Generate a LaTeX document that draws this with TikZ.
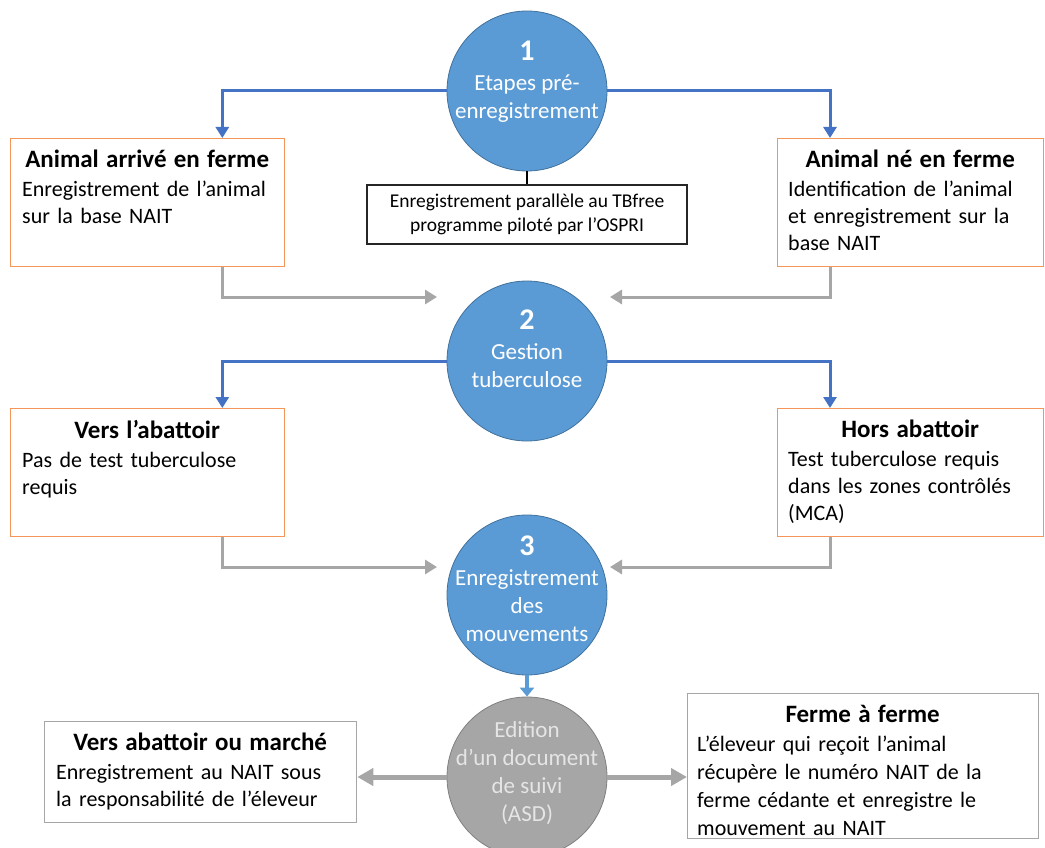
\documentclass[tikz,border=0pt]{standalone}
\usepackage{fontspec}
\setmainfont{Carlito}
\usepackage{xcolor}
\usepackage{tikz}
\usetikzlibrary{arrows.meta}

\definecolor{stepblue}{RGB}{91,155,213}
\definecolor{stepedge}{RGB}{65,113,156}
\definecolor{linkblue}{RGB}{68,114,196}
\definecolor{boxorange}{RGB}{244,150,90}
\definecolor{flowgrey}{RGB}{166,166,166}

\newcommand{\boxtitle}[1]{\hspace*{\fill}{\fontsize{25}{30}\selectfont\bfseries #1}\hspace*{\fill}\null}
\newcommand{\stepnum}[1]{{\fontsize{30}{30}\selectfont\bfseries #1}}

\begin{document}
\begin{tikzpicture}[x=10pt, y=-10pt,
    stepcirc/.style={circle, draw=stepedge, fill=stepblue, line width=0.8pt, minimum size=160pt, inner sep=0pt},
    asdcirc/.style={circle, draw=gray, fill=flowgrey, line width=0.8pt, minimum size=160pt, inner sep=0pt},
    circtext/.style={anchor=north, align=center, inner sep=0pt, font=\fontsize{23}{28}\selectfont},
    farmbox/.style={draw=boxorange, line width=1.3pt, anchor=north west, inner sep=0pt},
    exitbox/.style={draw=flowgrey, line width=1.3pt, anchor=north west, inner sep=0pt},
    boxtext/.style={anchor=north west, align=left, inner sep=0pt, font=\fontsize{22}{27}\selectfont},
    blueflow/.style={draw=linkblue, line width=3pt, -{Triangle[width=13pt,length=11pt]}},
    greyflow/.style={draw=flowgrey, line width=3pt, -{Triangle[width=14pt,length=12pt]}},
    exitflow/.style={draw=flowgrey, line width=5pt, -{Triangle[width=17pt,length=16pt]}}]
    \path[use as bounding box, clip] (0.0, 0.0) rectangle (104.5, 84.8);
    % Step 1: pre-registration
    \node[stepcirc] (step1) at (52.7,  9.1) {};
    \node[circtext, text=white] (step1T) at ([yshift=-30pt]step1.north) {\stepnum{1}\\[2pt] Etapes pré-\\ enregistrement};
    \node[draw=black!85, line width=1.2pt, minimum width=320pt, minimum height=59pt, align=center,
          font=\fontsize{19.5}{24}\selectfont] (tbfree) at (52.7, 21.45) {Enregistrement parallèle au TBfree\\ programme piloté par l’OSPRI};
    \draw[black, line width=1.2pt] (step1.south) -- (tbfree.north);
    % Animal arrived on the farm
    \node[farmbox, minimum width=274pt, minimum height=128pt] (arrive) at ( 1.0, 13.8) {};
    \node[boxtext, text width=250pt] (arriveT) at ([xshift=12pt, yshift=-12pt]arrive.north west)
        {\boxtitle{Animal arrivé en ferme}\\[2pt] Enregistrement de l’animal\\ sur la base NAIT};
    % Animal born on the farm
    \node[farmbox, minimum width=266pt, minimum height=128pt] (born) at (77.7, 13.8) {};
    \node[boxtext, text width=244pt] (bornT) at ([xshift=11pt, yshift=-12pt]born.north west)
        {\boxtitle{Animal né en ferme}\\[2pt] Identification de l’animal\\ et enregistrement sur la\\ base NAIT};
    \draw[blueflow] (step1.west) -| ([xshift=-63pt]arrive.north east);
    \draw[blueflow] (step1.east) -| ([xshift=53pt]born.north west);
    % Step 2: tuberculosis
    \node[stepcirc] (step2) at (52.7, 36.1) {};
    \node[circtext, text=white] (step2T) at ([yshift=-29pt]step2.north) {\stepnum{2}\\[2pt] Gestion\\ tuberculose};
    \coordinate (in2w) at (43.7, 29.7);
    \coordinate (in2e) at (61.0, 29.7);
    \draw[greyflow] ([xshift=-63pt]arrive.south east) |- (in2w);
    \draw[greyflow] ([xshift=53pt]born.south west) |- (in2e);
    % Going to slaughter
    \node[farmbox, minimum width=274pt, minimum height=128pt] (slaughter) at ( 1.0, 40.8) {};
    \node[boxtext, text width=250pt] (slaughterT) at ([xshift=12pt, yshift=-12pt]slaughter.north west)
        {\boxtitle{Vers l’abattoir}\\[2pt] Pas de test tuberculose\\ requis};
    % Not going to slaughter
    \node[farmbox, minimum width=266pt, minimum height=128pt] (offsite) at (77.7, 40.8) {};
    \node[boxtext, text width=244pt] (offsiteT) at ([xshift=11pt, yshift=-12pt]offsite.north west)
        {\boxtitle{Hors abattoir}\\[2pt] Test tuberculose requis\\ dans les zones contrôlés\\ (MCA)};
    \draw[blueflow] (step2.west) -| ([xshift=-63pt]slaughter.north east);
    \draw[blueflow] (step2.east) -| ([xshift=53pt]offsite.north west);
    % Step 3: movements
    \node[stepcirc] (step3) at (52.7, 59.5) {};
    \node[circtext, text=white] (step3T) at ([yshift=-21pt]step3.north) {\stepnum{3}\\[2pt] Enregistrement\\ des\\ mouvements};
    \coordinate (in3w) at (43.7, 56.7);
    \coordinate (in3e) at (61.0, 56.7);
    \draw[greyflow] ([xshift=-63pt]slaughter.south east) |- (in3w);
    \draw[greyflow] ([xshift=53pt]offsite.south west) |- (in3e);
    % ASD document
    \node[asdcirc] (asd) at (52.7, 77.7) {};
    \node[circtext, text=white!90!black] (asdT) at ([yshift=-25pt]asd.north) {Edition\\ d’un document\\ de suivi\\ (ASD)};
    \draw[stepblue, line width=4pt, -{Triangle[width=14pt,length=9pt]}] (step3.south) -- (asd.north);
    % Slaughter or market
    \node[exitbox, minimum width=312pt, minimum height=101pt] (market) at ( 4.4, 72.1) {};
    \node[boxtext, text width=288pt] (marketT) at ([xshift=12pt, yshift=-12pt]market.north west)
        {\boxtitle{Vers abattoir ou marché}\\[2pt] Enregistrement au NAIT sous\\ la responsabilité de l’éleveur};
    % Farm to farm
    \node[exitbox, minimum width=351pt, minimum height=145pt] (farm) at (68.7, 69.3) {};
    \node[boxtext, text width=331pt, font=\fontsize{22}{28}\selectfont] (farmT) at ([xshift=10pt, yshift=-12pt]farm.north west)
        {\boxtitle{Ferme à ferme}\\[1pt] L’éleveur qui reçoit l’animal\\ récupère le numéro NAIT de la\\ ferme cédante et enregistre le\\ mouvement au NAIT};
    \draw[exitflow] (asd.west) -- (asd.west -| market.east);
    \draw[exitflow] (asd.east) -- (asd.east -| farm.west);
\end{tikzpicture}
\end{document}
